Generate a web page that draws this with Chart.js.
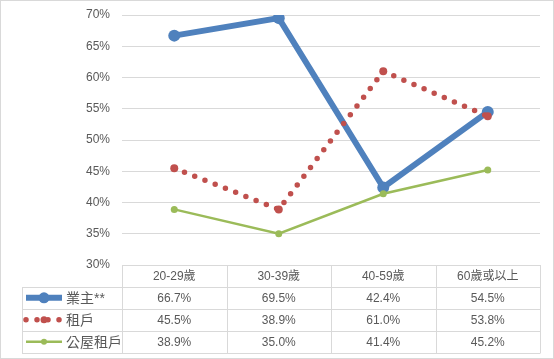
<!DOCTYPE html>
<html>
<head>
<meta charset="utf-8">
<script src="https://cdn.jsdelivr.net/npm/chart.js@4.4.1/dist/chart.umd.min.js"></script>
<style>
  body { margin: 0; background: #fff; }
  #wrap { width: 554px; height: 359px; position: relative; }
</style>
</head>
<body>
<div id="wrap"><canvas id="ageChart"></canvas></div>
<script>
// === data ===
const categories = ['20-29歲', '30-39歲', '40-59歲', '60歲或以上'];
const seriesNames = ['業主**', '租戶', '公屋租戶'];
const owners = [66.7, 69.5, 42.4, 54.5];
const tenants = [45.5, 38.9, 61.0, 53.8];
const publicTenants = [38.9, 35.0, 41.4, 45.2];
const yTicks = [30, 35, 40, 45, 50, 55, 60, 65, 70];

const FONT = "'Liberation Sans', 'Noto Sans CJK TC', sans-serif";
const GRID = '#d9d9d9';
const TEXT = '#595959';
const BLUE = '#4f81bd', RED = '#c0504d', GREEN = '#9bbb59';

// frame round the whole picture
const framePlugin = {
  id: 'frame',
  beforeDraw(chart) {
    const c = chart.ctx;
    c.save();
    c.fillStyle = '#fff';
    c.fillRect(0, 0, chart.width, chart.height);
    c.strokeStyle = GRID;
    c.lineWidth = 1;
    c.strokeRect(0.5, 0.5, chart.width - 1, chart.height - 1);
    c.restore();
  }
};

// excel-style data table under the plot
const tablePlugin = {
  id: 'dataTable',
  afterDraw(chart) {
    const c = chart.ctx;
    const area = chart.chartArea;
    const xs = chart.scales.x;
    const colW = (area.right - area.left) / categories.length;
    const top = area.bottom;
    const rowH = 21.9;
    const keyLeft = 22;
    const rows = [owners, tenants, publicTenants];
    const bottom = top + rowH * (rows.length + 1);

    c.save();
    c.strokeStyle = GRID;
    c.lineWidth = 1;
    c.beginPath();
    // horizontal lines
    c.moveTo(area.left, Math.round(top) + 0.5); c.lineTo(area.right, Math.round(top) + 0.5);
    for (let r = 1; r <= rows.length + 1; r++) {
      const y = Math.round(top + r * rowH) + 0.5;
      c.moveTo(keyLeft, y); c.lineTo(area.right, y);
    }
    // vertical lines
    for (let i = 0; i <= categories.length; i++) {
      const x = Math.round(area.left + i * colW) + 0.5;
      c.moveTo(x, top); c.lineTo(x, Math.round(bottom) + 0.5);
    }
    c.moveTo(keyLeft + 0.5, Math.round(top + rowH)); c.lineTo(keyLeft + 0.5, Math.round(bottom) + 0.5);
    c.stroke();

    c.fillStyle = TEXT;
    c.font = '12px ' + FONT;
    c.textAlign = 'center';
    c.textBaseline = 'middle';
    categories.forEach((cat, i) => {
      c.fillText(cat, xs.getPixelForValue(i), top + rowH / 2 + 1);
    });
    rows.forEach((vals, r) => {
      const y = top + rowH * (r + 1.5) + 1;
      vals.forEach((v, i) => {
        c.fillText(v.toFixed(1) + '%', xs.getPixelForValue(i), y);
      });
    });

    // legend keys
    c.textAlign = 'left';
    c.font = '14px ' + FONT;
    rows.forEach((vals, r) => {
      const y = top + rowH * (r + 1.5);
      const ds = chart.data.datasets[r];
      c.save();
      c.strokeStyle = ds.borderColor;
      c.lineWidth = ds.borderWidth;
      c.lineCap = ds.borderCapStyle || 'butt';
      if (ds.borderDash) c.setLineDash(ds.borderDash);
      c.beginPath();
      c.moveTo(26, y); c.lineTo(62, y);
      c.stroke();
      c.setLineDash([]);
      c.fillStyle = ds.pointBackgroundColor;
      c.beginPath();
      c.arc(44, y, ds.pointRadius - 0.5, 0, Math.PI * 2);
      c.fill();
      c.restore();
      c.fillStyle = TEXT;
      c.fillText(seriesNames[r], 66, y + 1);
    });
    c.restore();
  }
};

new Chart(document.getElementById('ageChart'), {
  type: 'line',
  data: {
    labels: categories,
    datasets: [
      {
        label: seriesNames[0], data: owners, order: 3,
        borderColor: BLUE, backgroundColor: BLUE, borderWidth: 6,
        pointRadius: 6, pointBackgroundColor: BLUE, pointBorderWidth: 0
      },
      {
        label: seriesNames[1], data: tenants, order: 2,
        borderColor: RED, backgroundColor: RED, borderWidth: 5.5,
        borderDash: [0, 11], borderCapStyle: 'round',
        pointRadius: 4, pointBackgroundColor: RED, pointBorderWidth: 0
      },
      {
        label: seriesNames[2], data: publicTenants, order: 1,
        borderColor: GREEN, backgroundColor: GREEN, borderWidth: 2.5,
        pointRadius: 3.5, pointBackgroundColor: GREEN, pointBorderWidth: 0
      }
    ]
  },
  options: {
    responsive: true,
    maintainAspectRatio: false,
    animation: false,
    layout: { autoPadding: false, padding: { top: 15, right: 14, bottom: 94, left: 0 } },
    plugins: { legend: { display: false }, tooltip: { enabled: false } },
    scales: {
      x: { display: false, offset: true },
      y: {
        min: 30, max: 70,
        afterBuildTicks: s => { s.ticks = yTicks.map(v => ({ value: v })); },
        afterFit: s => { s.width = 122; },
        border: { display: false },
        // invisible tick marks give the gap between labels and plot
        grid: { color: GRID, tickLength: 12, tickColor: 'rgba(0,0,0,0)' },
        ticks: {
          padding: 0, color: TEXT, font: { size: 12, family: FONT },
          callback: v => v + '%'
        }
      }
    }
  },
  plugins: [framePlugin, tablePlugin]
});
</script>
</body>
</html>
